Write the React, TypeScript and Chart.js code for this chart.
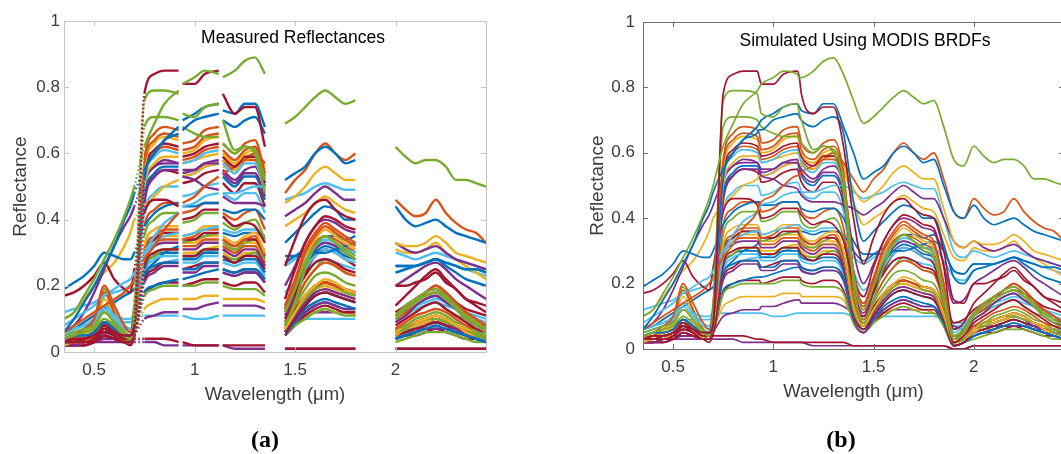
import React, { useEffect, useRef } from "react";
import { Chart, registerables } from "chart.js";

Chart.register(...registerables);

// ---------- data ----------
const WAVELENGTHS_UM = [0.35, 0.40, 0.45, 0.50, 0.55, 0.60, 0.65, 0.68, 0.70, 0.75, 0.80, 0.85, 0.92, 0.93, 0.94, 1.00, 1.05, 1.12, 1.13, 1.14, 1.20, 1.25, 1.30, 1.35, 1.40, 1.45, 1.50, 1.55, 1.60, 1.65, 1.70, 1.75, 1.80, 1.85, 1.90, 1.95, 2.00, 2.05, 2.10, 2.15, 2.20, 2.25, 2.30, 2.35, 2.40, 2.45];
// wavelengths without a field measurement (atmospheric water bands / detector joins)
const MEASURED_GAPS_UM = [0.93, 1.13, 1.40, 1.85, 1.90, 1.95];
const X_TICKS = [0.5, 1, 1.5, 2];
const Y_TICKS = [0, 0.2, 0.4, 0.6, 0.8, 1];

// reflectance spectra, in hundredths of reflectance, one value per wavelength above
const G1 = [10, 12, 17, 22, 28, 34, 41, 46, 50, 62, 69, 75, 79, 80, 81, 83, 85, 84, 83, 83, 85, 88, 89, 84, 76, 69, 71, 74, 77, 79, 77, 75, 76, 68, 58, 56, 62, 59, 57, 58, 58, 56, 52, 52, 51, 50];
const R1 = [3, 4, 4, 5, 7, 6, 5, 5, 8, 78, 84, 85, 85, 83, 81, 81, 84, 85, 83, 78, 72, 74, 74, 62, 40, 26, 34, 41, 45, 46, 43, 41, 40, 30, 15, 14, 20, 20, 21, 22, 24, 21, 19, 16, 15, 14];
const G2 = [4, 5, 6, 7, 10, 8, 5, 4, 12, 76, 79, 79, 78, 75, 72, 71, 74, 75, 72, 70, 61, 62, 60, 48, 20, 8, 15, 25, 32, 35, 33, 30, 28, 15, 3, 5, 10, 13, 15, 17, 18, 16, 13, 10, 8, 6];
const B1 = [6, 10, 15, 20, 26, 32, 40, 44, 48, 55, 60, 64, 68, 69, 70, 72, 74, 75, 74, 73, 72, 75, 75, 68, 60, 52, 54, 56, 60, 62, 60, 57, 58, 50, 42, 40, 44, 40, 38, 39, 40, 38, 36, 35, 34, 33];
const B2 = [4, 5, 5, 6, 9, 7, 5, 5, 12, 52, 60, 64, 66, 67, 67, 70, 71, 72, 71, 70, 68, 70, 71, 66, 45, 33, 36, 39, 42, 44, 43, 40, 40, 32, 22, 20, 24, 25, 26, 27, 28, 26, 24, 22, 21, 20];
const G3 = [5, 6, 7, 8, 12, 9, 6, 5, 14, 68, 71, 71, 70, 69, 68, 66, 65, 65, 64, 63, 60, 62, 61, 52, 23, 12, 19, 27, 32, 35, 33, 31, 29, 17, 4, 6, 11, 14, 16, 18, 19, 17, 14, 11, 9, 7];
const O1 = [3, 4, 4, 5, 9, 7, 5, 4, 11, 58, 66, 68, 67, 66, 63, 64, 67, 68, 66, 63, 60, 63, 64, 54, 24, 14, 22, 31, 36, 39, 37, 35, 33, 20, 3, 6, 11, 14, 16, 18, 20, 18, 15, 12, 10, 8];
const O2 = [4, 5, 7, 10, 20, 14, 8, 6, 14, 57, 64, 66, 65, 63, 61, 62, 65, 66, 64, 61, 58, 61, 62, 53, 23, 13, 21, 30, 35, 38, 36, 34, 32, 20, 4, 6, 11, 13, 16, 18, 19, 17, 14, 12, 10, 8];
const Y1 = [4, 4, 5, 7, 12, 9, 5, 4, 12, 55, 63, 65, 64, 62, 60, 61, 64, 65, 63, 60, 57, 60, 61, 52, 23, 13, 21, 29, 34, 37, 35, 33, 31, 19, 3, 5, 10, 13, 15, 17, 18, 16, 14, 11, 9, 7];
const R2 = [3, 3, 4, 5, 8, 6, 4, 4, 10, 54, 61, 63, 62, 61, 59, 60, 62, 63, 61, 59, 56, 59, 59, 51, 24, 16, 25, 33, 38, 41, 40, 38, 37, 25, 6, 8, 14, 17, 20, 23, 25, 22, 19, 16, 14, 12];
const L1 = [5, 6, 7, 9, 13, 10, 7, 6, 12, 52, 59, 61, 60, 59, 57, 58, 60, 61, 59, 57, 54, 57, 57, 49, 23, 14, 21, 28, 32, 34, 33, 31, 30, 20, 5, 7, 11, 13, 15, 17, 18, 16, 14, 12, 10, 8];
const O3 = [6, 8, 10, 12, 14, 16, 18, 20, 22, 28, 32, 37, 42, 44, 45, 47, 50, 53, 53, 54, 56, 58, 60, 57, 52, 48, 52, 55, 60, 63, 60, 58, 60, 52, 42, 40, 46, 43, 41, 42, 46, 42, 39, 37, 36, 33];
const Y2 = [4, 5, 6, 8, 12, 10, 7, 6, 12, 50, 57, 59, 59, 58, 57, 58, 59, 60, 59, 58, 57, 59, 60, 56, 49, 45, 47, 50, 54, 56, 54, 52, 52, 43, 33, 31, 33, 32, 32, 33, 35, 33, 30, 29, 28, 27];
const P1 = [4, 4, 5, 6, 9, 7, 5, 5, 10, 45, 53, 55, 55, 54, 53, 52, 50, 49, 48, 47, 45, 45, 45, 44, 43, 41, 43, 45, 48, 50, 48, 46, 46, 40, 33, 31, 33, 31, 30, 31, 32, 30, 28, 27, 26, 25];
const L2 = [8, 10, 12, 14, 17, 19, 21, 22, 24, 30, 35, 39, 42, 43, 44, 45, 47, 48, 48, 48, 48, 49, 50, 50, 48, 46, 47, 48, 50, 51, 50, 49, 49, 40, 30, 28, 30, 29, 28, 29, 30, 29, 28, 27, 26, 25];
const R3 = [17, 18, 20, 23, 27, 22, 19, 18, 25, 42, 46, 46, 44, 42, 40, 41, 43, 43, 42, 41, 38, 39, 38, 33, 20, 14, 18, 23, 27, 28, 27, 25, 24, 16, 8, 9, 12, 14, 16, 17, 18, 17, 15, 13, 12, 11];
const B3 = [19, 21, 23, 26, 30, 29, 28, 28, 30, 38, 42, 44, 45, 45, 44, 44, 45, 45, 44, 43, 42, 43, 43, 40, 33, 29, 29, 29, 30, 30, 31, 32, 33, 30, 24, 23, 26, 26, 26, 27, 28, 27, 26, 25, 25, 24];
const P2 = [6, 8, 12, 18, 25, 32, 38, 41, 44, 52, 56, 57, 57, 56, 55, 55, 57, 57, 56, 55, 52, 55, 56, 50, 30, 20, 26, 33, 38, 40, 39, 37, 36, 26, 14, 15, 20, 22, 24, 26, 27, 25, 22, 20, 18, 16];
const Y3 = [10, 12, 16, 20, 24, 27, 32, 36, 40, 44, 47, 50, 52, 53, 53, 54, 56, 57, 57, 56, 55, 58, 59, 55, 45, 38, 40, 42, 45, 47, 45, 43, 42, 35, 28, 27, 31, 30, 30, 31, 33, 30, 28, 26, 24, 22];
const O4 = [3, 3, 4, 5, 8, 6, 4, 4, 9, 53, 60, 62, 61, 60, 58, 59, 61, 62, 60, 58, 55, 58, 58, 50, 22, 12, 20, 28, 33, 35, 34, 32, 30, 19, 3, 5, 10, 12, 15, 17, 18, 16, 14, 11, 9, 7];
const P3 = [3, 3, 4, 5, 8, 6, 4, 4, 9, 50, 56, 58, 57, 56, 54, 55, 57, 58, 56, 54, 51, 54, 54, 47, 20, 11, 18, 26, 31, 33, 32, 30, 28, 18, 3, 5, 9, 11, 14, 16, 17, 15, 13, 10, 8, 7];
const L3 = [6, 7, 8, 10, 14, 11, 8, 7, 12, 42, 48, 50, 50, 49, 47, 48, 50, 51, 50, 48, 46, 48, 48, 42, 22, 14, 19, 25, 29, 31, 30, 28, 27, 18, 6, 7, 10, 12, 14, 15, 16, 15, 13, 11, 10, 9];
const B4 = [4, 4, 5, 6, 9, 7, 5, 5, 10, 47, 54, 56, 56, 55, 53, 54, 56, 57, 55, 53, 50, 53, 53, 46, 22, 13, 19, 26, 30, 32, 31, 29, 28, 18, 4, 6, 10, 12, 14, 16, 17, 15, 13, 11, 9, 8];
const R4 = [3, 3, 3, 4, 6, 5, 3, 3, 8, 47, 53, 55, 54, 53, 51, 52, 54, 55, 53, 51, 48, 51, 51, 44, 19, 10, 17, 24, 29, 31, 30, 28, 26, 16, 2, 4, 8, 10, 12, 14, 15, 13, 11, 9, 7, 6];
const O7 = [3, 3, 4, 5, 9, 7, 4, 4, 8, 38, 43, 45, 45, 44, 42, 43, 45, 45, 44, 42, 40, 42, 43, 37, 16, 9, 15, 21, 25, 27, 26, 24, 23, 14, 2, 4, 7, 9, 11, 12, 13, 12, 10, 8, 7, 6];
const G4 = [3, 3, 4, 5, 9, 6, 4, 3, 8, 35, 40, 42, 42, 41, 39, 40, 42, 42, 41, 39, 37, 39, 40, 34, 15, 8, 14, 19, 23, 24, 23, 21, 20, 13, 2, 3, 7, 8, 10, 11, 12, 11, 9, 8, 6, 5];
const L8 = [6, 7, 8, 9, 12, 11, 10, 10, 12, 28, 33, 35, 36, 36, 35, 36, 37, 38, 38, 37, 36, 37, 37, 34, 24, 18, 21, 24, 27, 28, 27, 26, 25, 18, 8, 8, 11, 12, 13, 14, 15, 14, 13, 12, 11, 10];
const Y4 = [2, 3, 3, 5, 8, 6, 3, 3, 7, 32, 37, 38, 38, 37, 35, 36, 38, 38, 37, 35, 33, 35, 36, 30, 13, 7, 12, 17, 20, 22, 21, 19, 18, 11, 2, 3, 6, 8, 9, 10, 11, 10, 8, 7, 6, 5];
const O5 = [3, 4, 6, 9, 18, 12, 6, 4, 8, 31, 35, 37, 37, 36, 34, 35, 37, 37, 36, 34, 32, 34, 35, 29, 13, 7, 12, 17, 20, 21, 20, 19, 18, 11, 2, 3, 6, 8, 9, 10, 11, 10, 8, 7, 6, 5];
const R8 = [2, 3, 3, 4, 7, 5, 3, 3, 6, 30, 34, 36, 36, 35, 34, 34, 36, 36, 35, 34, 32, 34, 34, 29, 13, 7, 12, 17, 20, 21, 20, 19, 18, 11, 2, 3, 6, 8, 9, 10, 11, 10, 8, 7, 6, 5];
const G5 = [3, 4, 6, 9, 19, 12, 6, 4, 8, 30, 34, 36, 36, 35, 33, 34, 35, 36, 35, 33, 31, 33, 34, 28, 12, 7, 12, 16, 19, 21, 20, 18, 17, 11, 2, 3, 6, 7, 9, 10, 10, 9, 8, 7, 5, 4];
const Y7 = [3, 4, 5, 8, 16, 11, 5, 4, 7, 29, 33, 35, 35, 34, 33, 33, 35, 35, 34, 33, 31, 33, 33, 28, 12, 7, 12, 16, 19, 20, 19, 18, 17, 10, 2, 3, 5, 7, 8, 9, 10, 9, 8, 6, 5, 4];
const P4 = [2, 2, 3, 4, 6, 5, 3, 3, 6, 28, 32, 33, 33, 32, 31, 31, 33, 33, 32, 31, 29, 31, 31, 26, 12, 7, 11, 15, 18, 19, 18, 17, 16, 10, 2, 3, 5, 7, 8, 9, 10, 9, 7, 6, 5, 4];
const R5 = [2, 2, 3, 3, 5, 4, 3, 2, 5, 26, 30, 31, 31, 30, 29, 29, 31, 31, 30, 29, 27, 29, 29, 25, 11, 6, 10, 14, 17, 18, 17, 16, 15, 9, 1, 2, 5, 6, 7, 8, 9, 8, 7, 6, 5, 4];
const G7 = [3, 3, 4, 5, 8, 6, 4, 3, 6, 26, 29, 31, 31, 30, 29, 29, 31, 31, 30, 29, 28, 29, 30, 26, 14, 9, 15, 21, 25, 28, 26, 24, 23, 15, 4, 5, 9, 11, 13, 14, 15, 13, 11, 10, 8, 7];
const B8 = [3, 3, 4, 5, 7, 6, 4, 4, 6, 25, 29, 30, 30, 29, 28, 28, 30, 30, 29, 28, 27, 28, 28, 24, 11, 7, 10, 14, 17, 18, 17, 16, 15, 9, 2, 3, 5, 6, 7, 8, 9, 8, 7, 6, 5, 4];
const B5 = [3, 3, 4, 5, 7, 6, 4, 4, 6, 23, 26, 27, 27, 26, 25, 25, 27, 27, 26, 25, 24, 25, 25, 22, 10, 6, 9, 13, 15, 16, 15, 14, 13, 8, 1, 2, 4, 5, 6, 7, 8, 7, 6, 5, 4, 3];
const L5 = [4, 4, 5, 6, 9, 7, 5, 5, 7, 24, 28, 29, 29, 28, 27, 27, 29, 29, 28, 27, 26, 27, 27, 23, 11, 7, 11, 15, 17, 18, 17, 16, 15, 10, 2, 3, 5, 6, 7, 8, 9, 8, 7, 6, 5, 4];
const Y5 = [3, 3, 4, 5, 8, 6, 4, 3, 7, 27, 30, 31, 31, 31, 30, 30, 31, 32, 31, 30, 28, 30, 30, 26, 12, 7, 11, 15, 18, 19, 18, 17, 16, 10, 2, 3, 5, 7, 8, 9, 9, 8, 7, 6, 5, 4];
const R9 = [2, 2, 3, 3, 5, 4, 3, 3, 5, 22, 25, 27, 27, 26, 25, 26, 27, 27, 26, 25, 24, 25, 25, 22, 12, 8, 13, 17, 20, 21, 20, 19, 18, 12, 3, 5, 10, 13, 16, 18, 20, 18, 15, 12, 10, 8];
const O6 = [2, 2, 3, 4, 7, 5, 3, 3, 6, 29, 33, 34, 34, 33, 32, 32, 34, 34, 33, 32, 30, 32, 32, 27, 12, 7, 11, 16, 19, 20, 19, 18, 17, 10, 2, 3, 6, 7, 8, 9, 10, 9, 8, 6, 5, 4];
const P7 = [2, 2, 3, 4, 6, 5, 3, 3, 5, 21, 24, 26, 26, 25, 24, 24, 26, 26, 25, 24, 23, 24, 24, 21, 9, 5, 9, 12, 14, 15, 14, 13, 13, 8, 1, 2, 4, 5, 6, 7, 7, 7, 6, 5, 4, 3];
const G6 = [2, 2, 3, 4, 7, 5, 3, 3, 5, 17, 19, 20, 20, 20, 20, 20, 21, 21, 21, 20, 19, 19, 19, 17, 8, 5, 8, 10, 12, 13, 12, 11, 11, 7, 1, 2, 3, 4, 5, 6, 6, 6, 5, 4, 3, 3];
const B6 = [3, 3, 4, 4, 6, 5, 4, 4, 6, 18, 20, 21, 22, 22, 22, 23, 24, 25, 25, 24, 23, 24, 24, 21, 10, 6, 9, 12, 14, 15, 14, 13, 13, 8, 1, 2, 4, 5, 6, 7, 7, 7, 6, 5, 4, 3];
const R6 = [2, 2, 2, 3, 5, 4, 3, 3, 5, 17, 20, 21, 21, 21, 20, 21, 22, 22, 22, 21, 20, 21, 21, 18, 8, 5, 8, 11, 13, 14, 13, 12, 12, 7, 1, 2, 4, 5, 5, 6, 7, 6, 5, 4, 4, 3];
const Y6 = [3, 3, 3, 4, 6, 5, 4, 4, 6, 13, 15, 16, 16, 16, 16, 16, 17, 17, 17, 16, 16, 16, 16, 15, 9, 7, 9, 11, 12, 13, 12, 12, 11, 8, 3, 3, 5, 6, 6, 7, 7, 7, 6, 5, 5, 4];
const P5 = [2, 2, 2, 3, 4, 4, 3, 3, 5, 10, 11, 12, 12, 12, 13, 13, 14, 15, 15, 14, 14, 14, 14, 13, 11, 10, 11, 11, 12, 12, 12, 12, 11, 9, 7, 6, 7, 7, 7, 7, 7, 7, 6, 6, 5, 5];
const L6 = [4, 5, 6, 7, 9, 9, 9, 9, 10, 11, 11, 11, 11, 11, 11, 10, 10, 11, 11, 11, 11, 11, 11, 11, 10, 10, 10, 10, 10, 10, 10, 10, 10, 9, 7, 7, 7, 7, 7, 7, 7, 7, 7, 6, 6, 6];
const R7 = [3, 3, 3, 4, 4, 4, 3, 3, 4, 4, 4, 4, 3, 3, 3, 2, 2, 2, 2, 2, 2, 2, 2, 2, 1, 1, 1, 1, 1, 1, 1, 1, 1, 1, 0, 0, 1, 1, 1, 1, 1, 1, 1, 1, 1, 1];
const P6 = [2, 2, 2, 3, 3, 3, 3, 3, 3, 3, 3, 2, 2, 2, 2, 2, 2, 2, 2, 2, 1, 1, 1, 1, 1, 1, 1, 1, 1, 1, 1, 1, 1, 1, 0, 0, 1, 1, 1, 1, 1, 1, 1, 1, 1, 1];
const L7 = [12, 13, 14, 15, 17, 18, 19, 20, 21, 24, 26, 27, 28, 28, 28, 29, 30, 31, 31, 31, 31, 32, 32, 31, 28, 26, 28, 30, 32, 33, 32, 31, 31, 27, 22, 21, 24, 25, 26, 27, 28, 27, 26, 25, 24, 23];
const B7 = [6, 7, 9, 11, 13, 15, 17, 18, 19, 24, 27, 30, 32, 33, 33, 34, 35, 36, 36, 36, 35, 36, 36, 35, 30, 27, 29, 31, 33, 35, 35, 34, 35, 30, 24, 23, 26, 26, 26, 27, 28, 27, 26, 25, 25, 24];

const SPECTRA = [G1, R1, G2, B1, B2, G3, O1, O2, Y1, R2, L1, O3, Y2, P1, L2, R3, B3, P2, Y3, O4, P3, L3, B4, R4, O7, G4, L8, Y4, O5, R8, G5, Y7, P4, R5, G7, B8, B5, L5, Y5, R9, O6, P7, G6, B6, R6, Y6, P5, L6, R7, P6, L7, B7];

// ---------- styles ----------
const MATLAB_COLORS: Record<string, string> = {
  blue: "#0072BD",
  orange: "#D95319",
  yellow: "#EDB120",
  purple: "#7E2F8E",
  green: "#77AC30",
  lightblue: "#4DBEEE",
  red: "#A2142F",
};
const SPECTRA_COLORS = [
  "green", "red", "green", "blue", "blue", "green", "orange", "orange", "yellow", "red", "lightblue",
  "orange", "yellow", "purple", "lightblue", "red", "blue", "purple", "yellow", "orange", "purple", "lightblue",
  "blue", "red", "orange", "green", "lightblue", "yellow", "orange", "red", "green", "yellow", "purple", "red",
  "green", "blue", "blue", "lightblue", "yellow", "red", "orange", "purple", "green", "blue", "red", "yellow",
  "purple", "lightblue", "red", "purple", "lightblue", "blue",
];

const FONT = "'Liberation Sans', Arial, Helvetica, sans-serif";

const boxPlugin = {
  id: "matlabBox",
  afterDatasetsDraw(chart: any, _args: any, opts: any) {
    const { ctx, chartArea: a, scales } = chart;
    ctx.save();
    ctx.strokeStyle = opts.color;
    ctx.lineWidth = 1;
    ctx.strokeRect(Math.round(a.left) + 0.5, Math.round(a.top) + 0.5, Math.round(a.right - a.left), Math.round(a.bottom - a.top));
    ctx.beginPath();
    const tl = 5;
    X_TICKS.forEach((v) => {
      const px = Math.round(scales.x.getPixelForValue(v)) + 0.5;
      ctx.moveTo(px, a.bottom);
      ctx.lineTo(px, a.bottom - tl);
      ctx.moveTo(px, a.top);
      ctx.lineTo(px, a.top + tl);
    });
    Y_TICKS.forEach((v) => {
      const py = Math.round(scales.y.getPixelForValue(v)) + 0.5;
      ctx.moveTo(a.left, py);
      ctx.lineTo(a.left + tl, py);
      ctx.moveTo(a.right, py);
      ctx.lineTo(a.right - tl, py);
    });
    ctx.stroke();
    ctx.fillStyle = "#000";
    ctx.font = `${opts.titleSize}px ${FONT}`;
    ctx.textAlign = "center";
    ctx.textBaseline = "middle";
    ctx.fillText(opts.title, opts.titleX, opts.titleY);
    ctx.restore();
  },
};

type PanelProps = {
  left: number;
  width: number;
  title: string;
  titleX: number;
  titleY: number;
  titleSize: number;
  padding: { left: number; top: number; right: number; bottom: number };
  yAxisWidth: number;
  xAxisHeight: number;
  yTickPad: number;
  xTickPad: number;
  lineWidth: number;
  boxColor: string;
  measured: boolean;
};

function SpectraPanel(p: PanelProps) {
  const ref = useRef<HTMLCanvasElement>(null);
  useEffect(() => {
    if (!ref.current) return;
    const datasets = SPECTRA.map((vals, i) => ({
      data: WAVELENGTHS_UM.map((w, j) => ({
        x: w,
        y: p.measured && MEASURED_GAPS_UM.includes(w) ? null : vals[j] / 100,
      })),
      borderColor: MATLAB_COLORS[SPECTRA_COLORS[i]],
      backgroundColor: MATLAB_COLORS[SPECTRA_COLORS[i]],
      borderWidth: p.lineWidth,
      pointRadius: 0,
      cubicInterpolationMode: "monotone" as const,
      fill: false,
      segment: p.measured
        ? { borderDash: (c: any) => (c.p0.parsed.x === 0.7 ? [1.5, 2.5] : undefined) }
        : undefined,
    }));
    const tickColor = "#3c3c3c";
    const chart = new Chart(ref.current, {
      type: "line",
      data: { datasets: datasets as any },
      options: {
        animation: false,
        responsive: false,
        maintainAspectRatio: false,
        layout: { padding: p.padding },
        plugins: {
          legend: { display: false },
          tooltip: { enabled: false },
          matlabBox: { color: p.boxColor, title: p.title, titleX: p.titleX, titleY: p.titleY, titleSize: p.titleSize },
        } as any,
        scales: {
          x: {
            type: "linear",
            min: 0.35,
            max: 2.45,
            grid: { display: false, drawTicks: false },
            border: { display: false },
            afterBuildTicks: (s: any) => {
              s.ticks = X_TICKS.map((v) => ({ value: v }));
            },
            afterFit: (s: any) => {
              s.height = p.xAxisHeight;
            },
            ticks: {
              padding: p.xTickPad,
              color: tickColor,
              font: { family: FONT, size: 17 },
              maxRotation: 0,
              autoSkip: false,
              callback: (v: any) => String(v),
            },
            title: {
              display: true,
              text: "Wavelength (μm)",
              color: tickColor,
              font: { family: FONT, size: 18.5 },
              padding: 0,
            },
          },
          y: {
            type: "linear",
            min: 0,
            max: 1,
            grid: { display: false, drawTicks: false },
            border: { display: false },
            afterBuildTicks: (s: any) => {
              s.ticks = Y_TICKS.map((v) => ({ value: v }));
            },
            afterFit: (s: any) => {
              s.width = p.yAxisWidth;
            },
            ticks: {
              padding: p.yTickPad,
              color: tickColor,
              font: { family: FONT, size: 17 },
              autoSkip: false,
              callback: (v: any) => String(v),
            },
            title: {
              display: true,
              text: "Reflectance",
              color: tickColor,
              font: { family: FONT, size: 19 },
              padding: 0,
            },
          },
        },
      },
      plugins: [boxPlugin as any],
    });
    return () => chart.destroy();
  }, []);
  return (
    <canvas
      ref={ref}
      width={p.width}
      height={454}
      style={{ position: "absolute", left: p.left, top: 0, width: p.width, height: 454 }}
    />
  );
}

const captionStyle: React.CSSProperties = {
  position: "absolute",
  top: 426,
  width: 60,
  textAlign: "center",
  fontFamily: "'Liberation Serif', 'DejaVu Serif', serif",
  fontWeight: "bold",
  fontSize: 24,
  lineHeight: "26px",
  color: "#000",
};

export default function App() {
  return (
    <div
      style={{
        position: "absolute",
        left: 0,
        top: 0,
        width: 1061,
        height: 454,
        overflow: "hidden",
        background: "#fff",
      }}
    >
      <SpectraPanel
        left={0}
        width={530}
        title="Measured Reflectances"
        titleX={293}
        titleY={38}
        titleSize={17.5}
        padding={{ left: 9, top: 21, right: 44, bottom: 48 }}
        yAxisWidth={55}
        xAxisHeight={54}
        yTickPad={4}
        xTickPad={8}
        lineWidth={2.4}
        boxColor="#c4c4c4"
        measured={true}
      />
      <SpectraPanel
        left={530}
        width={540}
        title="Simulated Using MODIS BRDFs"
        titleX={335}
        titleY={41}
        titleSize={17.5}
        padding={{ left: 56, top: 22, right: 6, bottom: 51 }}
        yAxisWidth={57}
        xAxisHeight={54}
        yTickPad={8}
        xTickPad={8}
        lineWidth={1.7}
        boxColor="#6e6e6e"
        measured={false}
      />
      <div style={{ ...captionStyle, left: 235 }}>(a)</div>
      <div style={{ ...captionStyle, left: 811 }}>(b)</div>
    </div>
  );
}
